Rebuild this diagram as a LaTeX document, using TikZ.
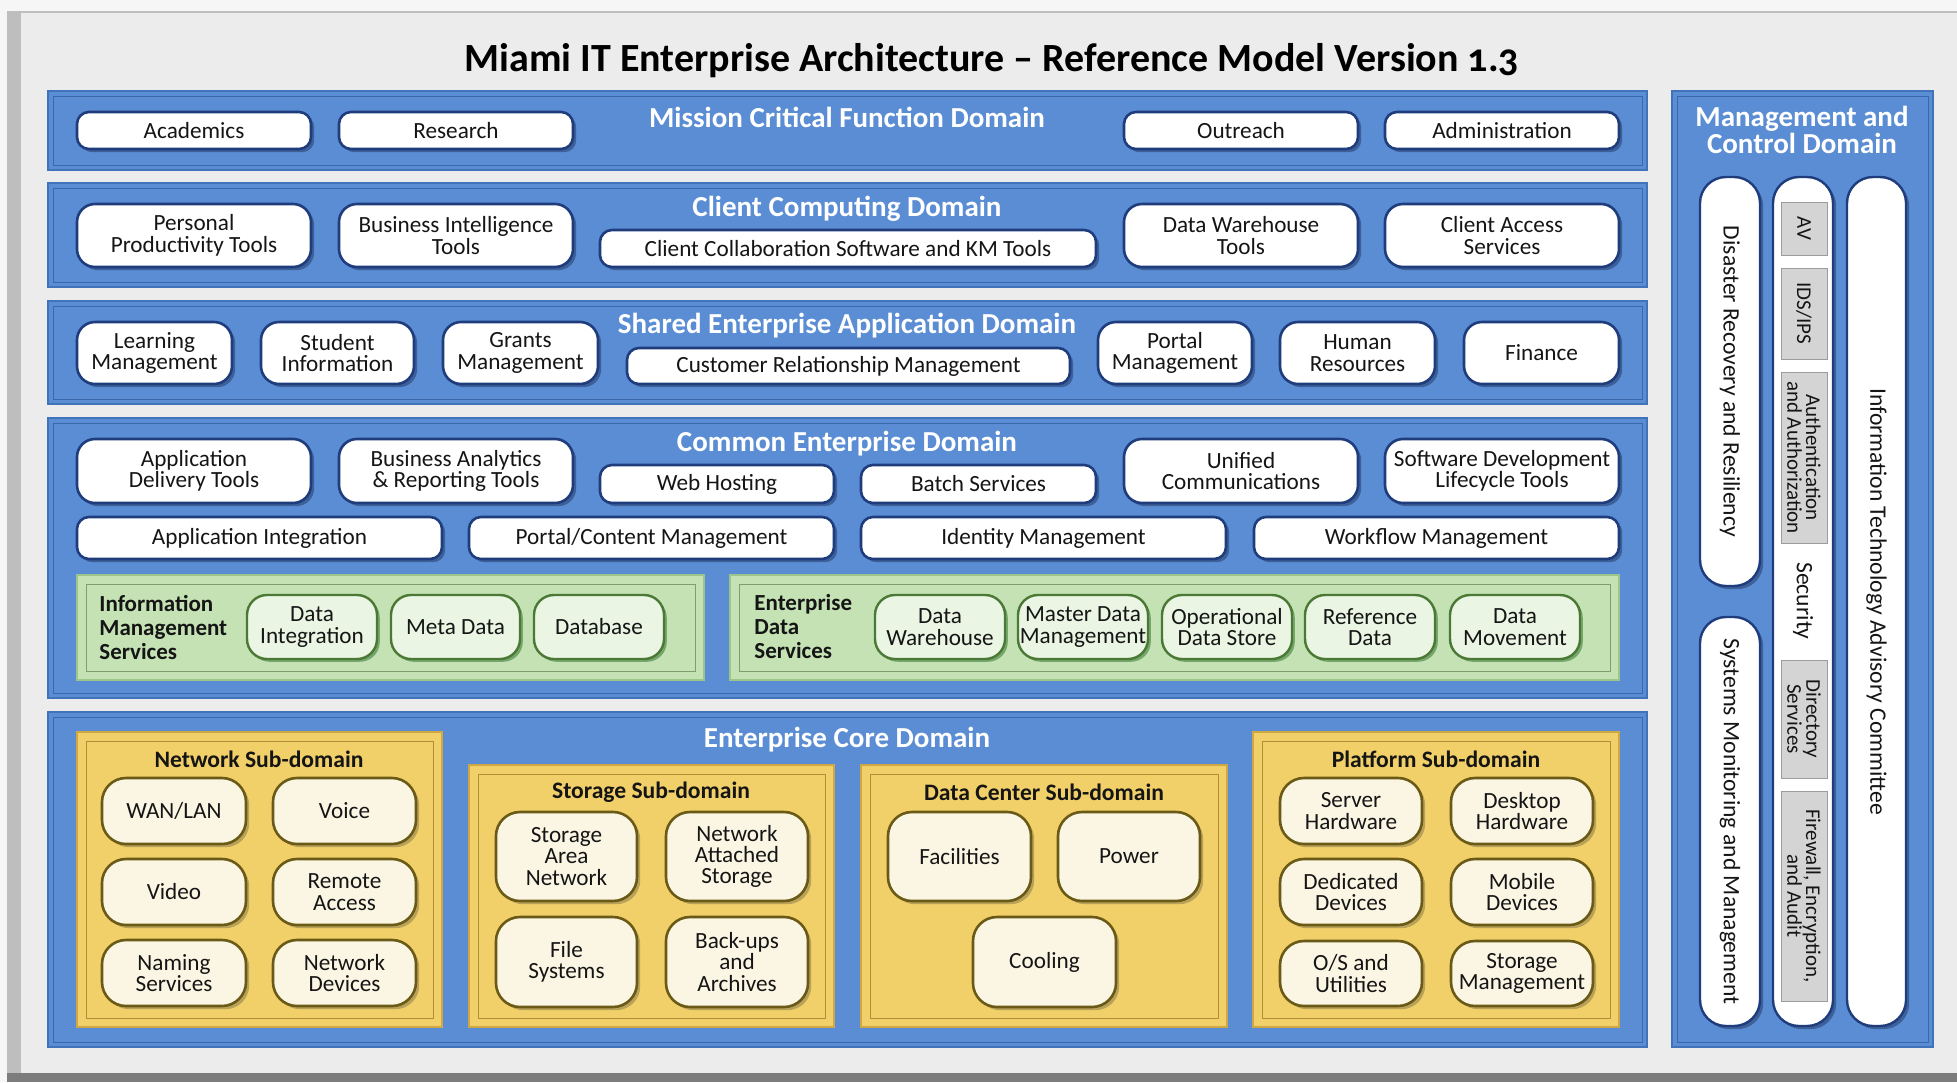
\documentclass[tikz,border=0pt]{standalone}
\usepackage{fontspec}
\setmainfont{Carlito}
\usetikzlibrary{shadows}

\definecolor{pagebg}{HTML}{F6F6F6}
\definecolor{panelbg}{HTML}{ECECEC}
\definecolor{leftedge}{HTML}{BEBEBE}
\definecolor{bottomedge}{HTML}{7C7C7C}
\definecolor{bandblue}{HTML}{5A8DD4}
\definecolor{bandedge}{HTML}{4173BA}
\definecolor{bandline}{HTML}{3B68AA}
\definecolor{boxnavy}{HTML}{1F3C7C}
\definecolor{shadowc}{HTML}{1A2A50}
\definecolor{greenpanel}{HTML}{C4E2B4}
\definecolor{greenedge}{HTML}{9CC58A}
\definecolor{greenbox}{HTML}{EAF5E3}
\definecolor{greenborder}{HTML}{4B7935}
\definecolor{yellowpanel}{HTML}{F1CF69}
\definecolor{yellowedge}{HTML}{CFA843}
\definecolor{yellowbox}{HTML}{FBF6E4}
\definecolor{yellowborder}{HTML}{6A5A16}
\definecolor{grayfill}{HTML}{D4D4D4}
\definecolor{grayborder}{HTML}{9C9C9C}
\definecolor{inktext}{HTML}{151515}

\newcommand\fsz[2]{\fontsize{#1}{#2}\selectfont}

% box from corner (x1,y1) to (x2,y2) in pixel units
\newcommand\archbox[7]{%
  \pgfmathsetmacro\bxw{0.5*(#5-#3)}%
  \pgfmathsetmacro\bxh{0.5*(#6-#4)}%
  \node[#1,minimum width=\bxw pt,minimum height=\bxh pt] (#2) at ({(#3+#5)/2},{(#4+#6)/2}) {#7};}
% same, but the text runs top to bottom
\newcommand\archvbox[7]{%
  \pgfmathsetmacro\bxw{0.5*(#6-#4)}%
  \pgfmathsetmacro\bxh{0.5*(#5-#3)}%
  \node[#1,rotate=-90,minimum width=\bxw pt,minimum height=\bxh pt] (#2) at ({(#3+#5)/2},{(#4+#6)/2}) {#7};}
% filled panel with an inset frame line
\newcommand\framedpanel[7]{%
  \draw[#1] (#3,#4) rectangle (#5,#6);
  \draw[#2] ({#3+#7},{#4+#7}) rectangle ({#5-#7},{#6-#7});}

\begin{document}
\begin{tikzpicture}[x=0.5pt,y=-0.5pt,
  base/.style={inner sep=0pt,outer sep=0pt,align=center,text=inktext,font=\fsz{11.6}{10.7}},
  shade/.style={drop shadow={shadow xshift=1.6pt,shadow yshift=-1.6pt,opacity=0.45,fill=shadowc}},
  wbox/.style={base,shade,rounded corners=6pt,fill=white,draw=boxnavy,line width=1.3pt},
  wboxb/.style={wbox,rounded corners=9pt},
  gbox/.style={base,drop shadow={shadow xshift=1.4pt,shadow yshift=-1.4pt,opacity=0.4,fill=black!70!green},
    rounded corners=10pt,fill=greenbox,draw=greenborder,line width=1.2pt},
  ybox/.style={base,drop shadow={shadow xshift=1.6pt,shadow yshift=-1.6pt,opacity=0.4,fill=black!70!yellow},
    rounded corners=12pt,fill=yellowbox,draw=yellowborder,line width=1.3pt},
  colbox/.style={base,shade,rounded corners=13pt,fill=white,draw=boxnavy,line width=1.2pt},
  graybox/.style={base,fill=grayfill,draw=grayborder,line width=0.5pt,font=\fsz{10.5}{9.4}},
  coltext/.style={base,rotate=-90,font=\fsz{11.8}{12}},
  dtitle/.style={inner sep=0pt,text=white,font=\fsz{14.5}{13.5}\bfseries,align=center},
  subtitle/.style={inner sep=0pt,text=inktext,font=\fsz{11.8}{12}\bfseries},
  svclabel/.style={inner sep=0pt,anchor=west,align=left,text=inktext,font=\fsz{11.5}{12}\bfseries},
  bandfill/.style={fill=bandblue,draw=bandedge,line width=1.2pt},
  bandline/.style={draw=bandline,line width=0.5pt},
  greenfill/.style={fill=greenpanel,draw=greenedge,line width=1pt},
  greenline/.style={draw=greenedge!80!black,line width=0.4pt},
  yellowfill/.style={fill=yellowpanel,draw=yellowedge,line width=1pt},
  yellowline/.style={draw=yellowedge!85!black,line width=0.4pt}]

\useasboundingbox (0,0) rectangle (1957,1082);

% ---------- sheet ----------
\fill[pagebg] (0,0) rectangle (1957,1082);
\fill[panelbg] (7,12) rectangle (1957,1073);
\fill[leftedge] (7,12) rectangle (21,1073);
\fill[bottomedge] (7,1073) rectangle (1957,1082);
\draw[leftedge,line width=0.6pt] (7,12) -- (1957,12);

\node[inner sep=0pt,text=black,font=\fsz{20}{22}\bfseries] (title) at (992,61)
  {Miami IT Enterprise Architecture – Reference Model Version {\addfontfeatures{Numbers=OldStyle}1.3}};

% ---------- domain bands ----------
\framedpanel{bandfill}{bandline}{48}{91}{1647}{170}{5}
\framedpanel{bandfill}{bandline}{48}{183}{1647}{287}{5}
\framedpanel{bandfill}{bandline}{48}{301}{1647}{404}{5}
\framedpanel{bandfill}{bandline}{48}{418}{1647}{698}{5}
\framedpanel{bandfill}{bandline}{48}{712}{1647}{1047}{5}
\framedpanel{bandfill}{bandline}{1672}{91}{1933}{1047}{5}

% ---------- Mission Critical Function Domain ----------
\node[dtitle] (mcfd) at (847,117) {Mission Critical Function Domain};
\archbox{wbox}{acad}{77}{112}{311}{149}{Academics}
\archbox{wbox}{research}{339}{112}{573}{149}{Research}
\archbox{wbox}{outreach}{1124}{112}{1358}{149}{Outreach}
\archbox{wbox}{admin}{1385}{112}{1619}{149}{Administration}

% ---------- Client Computing Domain ----------
\node[dtitle] (ccd) at (847,209) {Client Computing Domain};
\archbox{wboxb}{ppt}{77}{204}{311}{267}{Personal\\Productivity Tools}
\archbox{wboxb}{bit}{339}{204}{573}{267}{Business Intelligence\\Tools}
\archbox{wbox}{ccs}{600}{230}{1096}{267}{Client Collaboration Software and KM Tools}
\archbox{wboxb}{dwt}{1124}{204}{1358}{267}{Data Warehouse\\Tools}
\archbox{wboxb}{cas}{1385}{204}{1619}{267}{Client Access\\Services}

% ---------- Shared Enterprise Application Domain ----------
\node[dtitle] (sead) at (847,326) {Shared Enterprise Application Domain};
\archbox{wboxb}{lm}{77}{322}{232}{384}{Learning\\Management}
\archbox{wboxb}{si}{261}{322}{414}{384}{Student\\Information}
\archbox{wboxb}{gm}{443}{322}{598}{384}{Grants\\Management}
\archbox{wbox}{crm}{627}{348}{1070}{384}{Customer Relationship Management}
\archbox{wboxb}{pm}{1098}{322}{1252}{384}{Portal\\Management}
\archbox{wboxb}{hr}{1280}{322}{1435}{384}{Human\\Resources}
\archbox{wboxb}{fin}{1464}{322}{1619}{384}{Finance}

% ---------- Common Enterprise Domain ----------
\node[dtitle] (ced) at (847,444) {Common Enterprise Domain};
\archbox{wboxb}{adt}{77}{439}{311}{503}{Application\\Delivery Tools}
\archbox{wboxb}{bart}{339}{439}{573}{503}{Business Analytics\\\& Reporting Tools}
\archbox{wbox}{web}{600}{465}{834}{503}{Web Hosting}
\archbox{wbox}{batch}{861}{465}{1096}{503}{Batch Services}
\archbox{wboxb}{uc}{1124}{439}{1358}{503}{Unified\\Communications}
\archbox{wboxb}{sdlc}{1385}{439}{1619}{503}{Software Development\\Lifecycle Tools}
\archbox{wbox}{ai}{77}{517}{442}{559}{Application Integration}
\archbox{wbox}{pcm}{469}{517}{834}{559}{Portal/Content Management}
\archbox{wbox}{idm}{861}{517}{1226}{559}{Identity Management}
\archbox{wbox}{wfm}{1254}{517}{1619}{559}{Workflow Management}

% information management services
\framedpanel{greenfill}{greenline}{77}{575}{704}{680}{9}
\node[svclabel] (ims) at (99,627) {Information\\Management\\Services};
\archbox{gbox}{di}{247}{595}{377}{659}{Data\\Integration}
\archbox{gbox}{meta}{391}{595}{520}{659}{Meta Data}
\archbox{gbox}{dbase}{534}{595}{664}{659}{Database}

% enterprise data services
\framedpanel{greenfill}{greenline}{730}{575}{1619}{680}{9}
\node[svclabel] (eds) at (754,627) {Enterprise\\Data\\Services};
\archbox{gbox}{dw}{875}{595}{1005}{659}{Data\\Warehouse}
\archbox{gbox}{mdm}{1018}{595}{1148}{659}{Master Data\\Management}
\archbox{gbox}{ods}{1162}{595}{1292}{659}{Operational\\Data Store}
\archbox{gbox}{refd}{1305}{595}{1435}{659}{Reference\\Data}
\archbox{gbox}{dmov}{1450}{595}{1580}{659}{Data\\Movement}

% ---------- Enterprise Core Domain ----------
\node[dtitle] (ecd) at (847,740) {Enterprise Core Domain};

% network
\framedpanel{yellowfill}{yellowline}{77}{732}{442}{1027}{9}
\node[subtitle] (netsd) at (259,759) {Network Sub-domain};
\archbox{ybox}{wan}{102}{778}{246}{844}{WAN/LAN}
\archbox{ybox}{voice}{273}{778}{416}{844}{Voice}
\archbox{ybox}{video}{102}{859}{246}{925}{Video}
\archbox{ybox}{remote}{273}{859}{416}{925}{Remote\\Access}
\archbox{ybox}{naming}{102}{940}{246}{1006}{Naming\\Services}
\archbox{ybox}{netdev}{273}{940}{416}{1006}{Network\\Devices}

% storage
\framedpanel{yellowfill}{yellowline}{469}{765}{834}{1027}{9}
\node[subtitle] (stosd) at (651,792) {Storage Sub-domain};
\archbox{ybox}{san}{496}{812}{637}{901}{Storage\\Area\\Network}
\archbox{ybox}{nas}{666}{812}{808}{901}{Network\\Attached\\Storage}
\archbox{ybox}{fs}{496}{917}{637}{1007}{File\\Systems}
\archbox{ybox}{backup}{666}{917}{808}{1007}{Back-ups\\and\\Archives}

% data center
\framedpanel{yellowfill}{yellowline}{861}{765}{1227}{1027}{9}
\node[subtitle] (dcsd) at (1044,792) {Data Center Sub-domain};
\archbox{ybox}{facil}{888}{812}{1031}{901}{Facilities}
\archbox{ybox}{power}{1058}{812}{1200}{901}{Power}
\archbox{ybox}{cool}{973}{917}{1116}{1007}{Cooling}

% platform
\framedpanel{yellowfill}{yellowline}{1253}{732}{1619}{1027}{9}
\node[subtitle] (platsd) at (1436,759) {Platform Sub-domain};
\archbox{ybox}{server}{1280}{778}{1422}{844}{Server\\Hardware}
\archbox{ybox}{desktop}{1451}{778}{1593}{844}{Desktop\\Hardware}
\archbox{ybox}{dedic}{1280}{859}{1422}{925}{Dedicated\\Devices}
\archbox{ybox}{mobile}{1451}{859}{1593}{925}{Mobile\\Devices}
\archbox{ybox}{osu}{1280}{941}{1422}{1006}{O/S and\\Utilities}
\archbox{ybox}{stmgmt}{1451}{941}{1593}{1006}{Storage\\Management}

% ---------- Management and Control Domain ----------
\node[dtitle] (mcd) at (1802,130) {Management and\\Control Domain};

\archbox{colbox}{drcol}{1700}{177}{1760}{586}{}
\node[coltext] (drtxt) at (drcol) {Disaster Recovery and Resiliency};
\archbox{colbox}{smcol}{1700}{617}{1760}{1026}{}
\node[coltext] (smtxt) at (smcol) {Systems Monitoring and Management};
\archbox{colbox}{seccol}{1773}{177}{1833}{1026}{}
\node[coltext] (sectxt) at (1803,601) {Security};
\archbox{colbox}{itaccol}{1847}{177}{1906}{1026}{}
\node[coltext] (itactxt) at (itaccol) {Information Technology Advisory Committee};

\archvbox{graybox}{av}{1781}{202}{1827}{255}{AV}
\archvbox{graybox}{ids}{1781}{268}{1827}{359}{IDS/IPS}
\archvbox{graybox}{authn}{1781}{372}{1827}{543}{Authentication\\and Authorization}
\archvbox{graybox}{dirsvc}{1781}{660}{1827}{778}{Directory\\Services}
\archvbox{graybox}{fwall}{1781}{791}{1827}{1001}{Firewall, Encryption,\\and Audit}

\end{tikzpicture}
\end{document}
